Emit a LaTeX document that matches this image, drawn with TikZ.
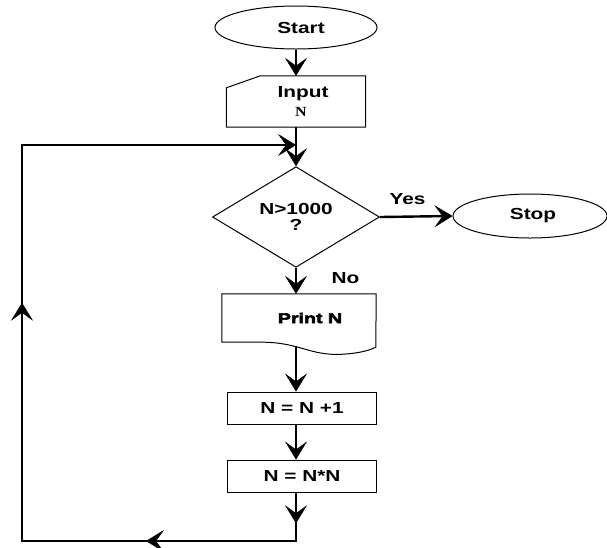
\documentclass[tikz,border=0pt]{standalone}
\usepackage{fontspec}
\setmainfont{Liberation Sans}[FakeStretch=1.3]
\newfontfamily\serfont{Liberation Serif}[FakeStretch=1.15]
\newfontfamily\heavyfont{Liberation Sans}[FakeStretch=1.4,FakeBold=4]
\usetikzlibrary{positioning,shapes.geometric,arrows.meta,calc,decorations.markings}
\tikzset{>={Stealth[length=18pt,width=22pt,inset=8pt,line width=0.4pt]},
  term/.style = {ellipse,draw,line width=1pt,inner sep=0pt,font=\fontsize{16}{19}\selectfont\bfseries},
  proc/.style = {rectangle,draw,line width=1pt,minimum width=149pt,minimum height=32pt,inner sep=0pt,font=\fontsize{16}{19}\selectfont\bfseries},
  decis/.style = {diamond,draw,line width=1pt,minimum width=167pt,minimum height=90pt,inner sep=0pt,align=center,font=\fontsize{16}{16}\selectfont\bfseries},
  flow/.style = {line width=2.4pt,->},
  lbl/.style = {font=\fontsize{16}{19}\selectfont\bfseries},
  backline/.style = {line width=2.4pt,->,postaction=decorate,
    decoration={markings,mark=at position 0.031 with {\arrow{>}},
      mark=at position 0.2 with {\arrow{>}},mark=at position 0.565 with {\arrow{>}}}}}
\begin{document}
\begin{tikzpicture}[x=1pt,y=-1pt]
\useasboundingbox (0,0) rectangle (607,547);
\node [term,minimum width=162pt,minimum height=43pt] (st) at (296,27.5) {\hspace*{10pt}Start};
\node [minimum width=139pt,minimum height=51pt,inner sep=0pt,align=center,font=\fontsize{16}{19}\selectfont\bfseries] (in) at (296,101.5) {\hspace*{14pt}Input\\\hspace*{10pt}{\serfont\fontsize{14}{19}\selectfont N}};
\draw [line width=1pt] ([yshift=-12pt]in.north west) -- ([xshift=34pt]in.north west) -- (in.north east) -- (in.south east) -- (in.south west) -- cycle;
\coordinate (join) at (296,145);
\node [decis] (dec) at (296,217) {N>1000\\?};
\node [term,minimum width=154pt,minimum height=44pt] (sp) at (530,216) {\hspace*{6pt}Stop};
\node [minimum width=154pt,minimum height=48pt,inner sep=0pt,font=\heavyfont\fontsize{14}{16}\selectfont\bfseries] (pr) at (299,318) {\hspace*{22pt}Print N};
\draw [line width=1pt] (pr.south west) -- ++(40,0) .. controls +(38,0) and +(-33,2) .. ++(81,12)
  .. controls +(17,-1) and +(-6,3) .. ++(33,-7) -- (pr.north east) -- (pr.north west) -- cycle;
\node [proc] (b1) at (302,408) {N = N +1};
\node [proc] (b2) at (302,476) {N = N*N};
\coordinate (bot) at (296,541);
\coordinate (lbot) at (22,541);
\coordinate (ltop) at (22,145);
\draw [flow] (st.south) -- (st.south |- in.north);
\draw [flow] (in.south) -- (dec.north);
\draw [flow] (dec.east) -- (sp.west) node [lbl,pos=0.38,above=7pt] {Yes};
\draw [flow] (dec.south) -- (dec.south |- pr.north) node [lbl,pos=0.4,right=31pt] {No};
\draw [flow] ($(dec.south |- pr.south)+(0,4)$) -- (dec.south |- b1.north);
\draw [flow] (dec.south |- b1.south) -- (dec.south |- b2.north);
\draw [backline] (dec.south |- b2.south) -- (bot) -- (lbot) -- (ltop) -- (join);
\end{tikzpicture}
\end{document}
